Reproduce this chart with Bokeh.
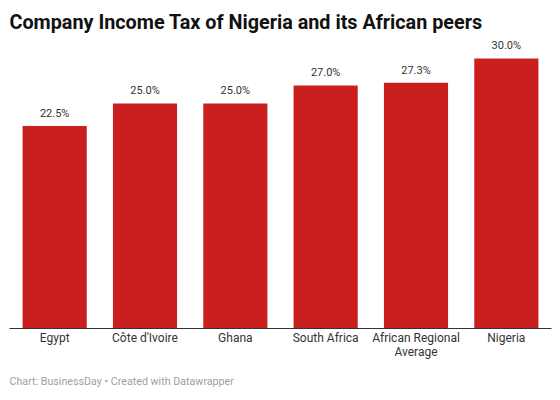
from bokeh.plotting import figure
from bokeh.models import ColumnDataSource, Range1d, Title
from bokeh.core.properties import value
from bokeh.embed import file_html
from bokeh.resources import INLINE

categories = ["Egypt", "Côte d'Ivoire", "Ghana", "South Africa", "African Regional\nAverage", "Nigeria"]
values = [22.5, 25.0, 25.0, 27.0, 27.3, 30.0]
value_labels = ["22.5%", "25.0%", "25.0%", "27.0%", "27.3%", "30.0%"]

W, H = 560, 400
p = figure(x_range=categories, y_range=Range1d(0, 32.22), width=W, height=H,
           output_backend="svg", toolbar_location=None, title=None,
           min_border_left=9, min_border_right=9, min_border_top=38, min_border_bottom=72)
p.outline_line_color = None
p.background_fill_color = "white"
p.border_fill_color = "white"
p.grid.visible = False
p.yaxis.visible = False

src = ColumnDataSource(dict(x=categories, top=values, lab=value_labels))
p.vbar(x="x", top="top", width=0.71, source=src, color="#c91f1f", line_color=None)
p.text(x="x", y="top", text="lab", source=src, y_offset=-6, text_align="center",
       text_baseline="bottom", text_font=value("Roboto"), text_font_size="11px",
       text_color="#333333")

ax = p.xaxis[0]
ax.axis_line_color = "#333333"
ax.axis_line_width = 1
ax.major_tick_line_color = None
ax.minor_tick_line_color = None
ax.major_label_text_font = "Roboto"
ax.major_label_text_font_size = "12px"
ax.major_label_text_color = "#333333"
ax.major_label_text_line_height = 1.05
ax.major_label_standoff = -4

title = Title(text="Company Income Tax of Nigeria and its African peers", align="left",
              text_font="Roboto", text_font_size="19.8px", text_font_style="bold",
              text_color="#111111", standoff=10, offset=0)
p.add_layout(title, "above")
footer = Title(text="Chart: BusinessDay \u2022 Created with Datawrapper", align="left",
               text_font="Roboto", text_font_size="10.7px", text_font_style="normal",
               text_color="#a0a0a0", standoff=21, offset=0)
p.add_layout(footer, "below")

open("out.html", "w").write(file_html(p, INLINE))
